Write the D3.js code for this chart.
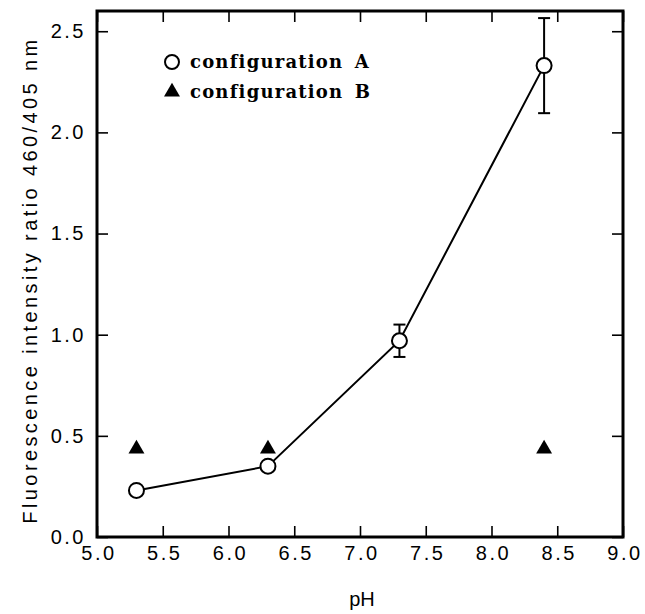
<!DOCTYPE html>
<html>
<head>
<meta charset="utf-8">
<script src="https://cdn.jsdelivr.net/npm/d3@7"></script>
<style>
  body { margin: 0; background: #fff; }
  svg text { font-family: "Liberation Sans", Arial, sans-serif; }
</style>
</head>
<body>
<div id="chart"></div>
<script>
// configuration A (open circles, with error bars)
var phA = [5.3, 6.3, 7.3, 8.4];
var ratioA = [0.23, 0.35, 0.97, 2.33];
var errA = [0, 0, 0.08, 0.235];

// configuration B (filled triangles)
var phB = [5.3, 6.3, 8.4];
var ratioB = [0.435, 0.435, 0.435];

var xTicks = [5.0, 5.5, 6.0, 6.5, 7.0, 7.5, 8.0, 8.5, 9.0];
var yTicks = [0.0, 0.5, 1.0, 1.5, 2.0, 2.5];

var width = 645, height = 614;
var margin = {top: 11, right: 22, bottom: 77, left: 97};

var svg = d3.select("#chart").append("svg")
  .attr("width", width)
  .attr("height", height);

var x = d3.scaleLinear().domain([5, 9]).range([margin.left, width - margin.right]);
var y = d3.scaleLinear().domain([0, 2.6]).range([height - margin.bottom, margin.top]);

// frame
svg.append("rect")
  .attr("x", x(5)).attr("y", y(2.6))
  .attr("width", x(9) - x(5)).attr("height", y(0) - y(2.6))
  .attr("fill", "none").attr("stroke", "#000").attr("stroke-width", 3);

// axes with inward ticks
var xAxis = svg.append("g")
  .attr("transform", "translate(0," + y(0) + ")")
  .call(d3.axisBottom(x).tickValues(xTicks).tickFormat(d3.format(".1f")).tickSizeInner(-11).tickSizeOuter(0).tickPadding(8));
xAxis.select(".domain").remove();
xAxis.selectAll("line").attr("stroke-width", 1.6);
xAxis.selectAll("text").attr("font-size", 20).attr("fill", "#000")
  .attr("dy", "0.75em").attr("dx", 1.5).style("letter-spacing", "2.5px");

var yAxis = svg.append("g")
  .attr("transform", "translate(" + x(5) + ",0)")
  .call(d3.axisLeft(y).tickValues(yTicks).tickFormat(d3.format(".1f")).tickSizeInner(-11).tickSizeOuter(0).tickPadding(11));
yAxis.select(".domain").remove();
yAxis.selectAll("line").attr("stroke-width", 1.6);
yAxis.selectAll("text").attr("font-size", 20).attr("fill", "#000").style("letter-spacing", "2.5px");

// top ticks
svg.append("g")
  .attr("transform", "translate(0," + y(2.6) + ")")
  .call(d3.axisTop(x).tickValues(xTicks).tickFormat("").tickSizeInner(-11).tickSizeOuter(0))
  .call(function(g) { g.select(".domain").remove(); g.selectAll("line").attr("stroke-width", 1.6); });

// right ticks
svg.append("g")
  .attr("transform", "translate(" + x(9) + ",0)")
  .call(d3.axisRight(y).tickValues(yTicks).tickFormat("").tickSizeInner(-11).tickSizeOuter(0))
  .call(function(g) { g.select(".domain").remove(); g.selectAll("line").attr("stroke-width", 1.6); });

// axis titles
svg.append("text")
  .attr("x", (x(5) + x(9)) / 2 + 2).attr("y", 606)
  .attr("text-anchor", "middle").attr("font-size", 20)
  .text("pH");

svg.append("text")
  .attr("transform", "translate(37,280) rotate(-90)")
  .attr("text-anchor", "middle").attr("font-size", 20)
  .style("letter-spacing", "3.4px")
  .text("Fluorescence intensity ratio 460/405 nm");

// line for configuration A
var line = d3.line().x(function(d) { return x(d[0]); }).y(function(d) { return y(d[1]); });
svg.append("path")
  .datum(d3.zip(phA, ratioA))
  .attr("d", line)
  .attr("fill", "none").attr("stroke", "#000").attr("stroke-width", 2);

// error bars
var eb = svg.append("g").attr("stroke", "#000").attr("stroke-width", 2);
phA.forEach(function(p, i) {
  if (!errA[i]) return;
  eb.append("line").attr("x1", x(p)).attr("x2", x(p))
    .attr("y1", y(ratioA[i] - errA[i])).attr("y2", y(ratioA[i] + errA[i]));
  [ratioA[i] - errA[i], ratioA[i] + errA[i]].forEach(function(v) {
    eb.append("line").attr("x1", x(p) - 6).attr("x2", x(p) + 6)
      .attr("y1", y(v)).attr("y2", y(v));
  });
});

// triangles for configuration B
var tri = d3.symbol().type(d3.symbolTriangle).size(110);
svg.selectAll(".triB")
  .data(d3.zip(phB, ratioB))
  .enter().append("path")
  .attr("class", "triB")
  .attr("d", tri)
  .attr("transform", function(d) { return "translate(" + x(d[0]) + "," + y(d[1]) + ")"; })
  .attr("fill", "#000");

// circles for configuration A
svg.selectAll(".circA")
  .data(d3.zip(phA, ratioA))
  .enter().append("circle")
  .attr("class", "circA")
  .attr("cx", function(d) { return x(d[0]); })
  .attr("cy", function(d) { return y(d[1]); })
  .attr("r", 7.5)
  .attr("fill", "#fff").attr("stroke", "#000").attr("stroke-width", 2);

// legend
var legend = svg.append("g");
legend.append("circle").attr("cx", 172).attr("cy", 62).attr("r", 7)
  .attr("fill", "#fff").attr("stroke", "#000").attr("stroke-width", 2);
legend.append("path").attr("d", tri).attr("transform", "translate(172,92)").attr("fill", "#000");
legend.selectAll(".lt")
  .data(["configuration A", "configuration B"])
  .enter().append("text")
  .attr("x", 190).attr("y", function(d, i) { return 68 + i * 30; })
  .attr("font-size", 18).attr("font-weight", "bold")
  .style("font-family", "'DejaVu Serif', serif")
  .style("letter-spacing", "1.2px")
  .style("word-spacing", "4px")
  .text(function(d) { return d; });
</script>
</body>
</html>
